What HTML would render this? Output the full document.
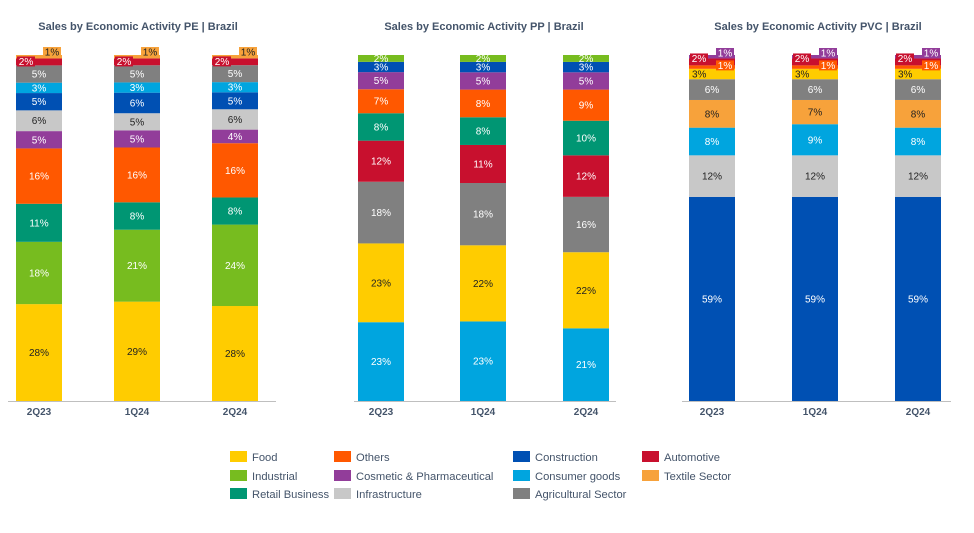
<!DOCTYPE html>
<html><head><meta charset="utf-8"><style>
body{margin:0;background:#fff;width:974px;height:528px;overflow:hidden;font-family:"Liberation Sans",sans-serif}
svg text{font-family:"Liberation Sans",sans-serif}
</style></head><body>
<svg id="c" width="974" height="528"></svg>
<script>
const categories=["2Q23","1Q24","2Q24"];
const peSeries=["Food","Industrial","Retail Business","Others","Cosmetic & Pharmaceutical","Infrastructure","Construction","Consumer goods","Agricultural Sector","Automotive","Textile Sector"];
const peValues=[[28,29,28],[18,21,24],[11,8,8],[16,16,16],[5,5,4],[6,5,6],[5,6,5],[3,3,3],[5,5,5],[2,2,2],[1,1,1]];
const ppSeries=["Consumer goods","Food","Agricultural Sector","Automotive","Retail Business","Others","Cosmetic & Pharmaceutical","Construction","Industrial"];
const ppValues=[[23,23,21],[23,22,22],[18,18,16],[12,11,12],[8,8,10],[7,8,9],[5,5,5],[3,3,3],[2,2,2]];
const pvcSeries=["Construction","Infrastructure","Consumer goods","Textile Sector","Agricultural Sector","Food","Others","Automotive","Cosmetic & Pharmaceutical"];
const pvcValues=[[59,59,59],[12,12,12],[8,9,8],[8,7,8],[6,6,6],[3,3,3],[1,1,1],[2,2,2],[1,1,1]];
const colors={"Food":"#FFCC00","Industrial":"#77BC1F","Retail Business":"#009673","Others":"#FF5800","Cosmetic & Pharmaceutical":"#923D9A","Infrastructure":"#C8C8C8","Construction":"#0050B3","Consumer goods":"#00A5DF","Agricultural Sector":"#808080","Automotive":"#C8102E","Textile Sector":"#F7A23B"};
const darkText={"Food":1,"Infrastructure":1,"Textile Sector":1};
const svg=document.getElementById('c');const NS='http://www.w3.org/2000/svg';
function el(t,a,p){const e=document.createElementNS(NS,t);for(const k in a)e.setAttribute(k,a[k]);(p||svg).appendChild(e);return e;}
const base=401,top0=55,bw=46;
function chart(title,tx,x0,x1,centers,series,values,tags,key){
  const g=el('g',{});
  
  
  const t=el('text',{x:tx,y:30,'text-anchor':'middle','font-size':11,'font-weight':'bold',fill:'#44546A'},g);t.textContent=title;
  
  
  categories.forEach((c,ci)=>{
    let total=0;series.forEach((s,si)=>total+=values[si][ci]);
    const y=v=>base-v/total*(base-top0);
    let cum=0;const cx=centers[ci];
    const labels=[];
    series.forEach((s,si)=>{
      const v=values[si][ci];
      const r=el('rect',{x:cx-bw/2,y:y(cum+v),width:bw,height:y(cum)-y(cum+v),fill:colors[s]},g);
      
      
      labels.push([s,v,y(cum+v),y(cum+v/2)]);
      cum+=v;
    });
    labels.forEach(([s,v,segTop,mid])=>{
      const tag=tags[s];
      const fill=darkText[s]?'#222':'#fff';
      if(tag&&tag[0]!='T'){
        const tw=18,th=10;const lx=tag[0]=='L'?cx-bw/2+1:cx+bw/2-tw-1;const ly=segTop+tag[1];
        el('rect',{x:lx,y:ly,width:tw,height:th,fill:colors[s]},g);
        const lt=el('text',{x:lx+tw/2,y:ly+8.5,'text-anchor':'middle','font-size':10,fill:fill},g);lt.textContent=v+'%';
        
        
      }else if(tag){
        const lt=el('text',{x:cx-bw/2+3,y:mid+3.5,'font-size':10,fill:fill},g);lt.textContent=v+'%';
        
        
      }else{
        const lt=el('text',{x:cx,y:mid+3.5,'text-anchor':'middle','font-size':10,fill:fill},g);lt.textContent=v+'%';
        
        
      }
    });
    const ct=el('text',{x:cx,y:415,'text-anchor':'middle','font-size':10,'font-weight':'bold',fill:'#44546A'},g);ct.textContent=c;
    
    
  });
  const ax=el('line',{x1:x0,x2:x1,y1:base+0.5,y2:base+0.5,stroke:'#BFBFBF','stroke-width':1},g);
  
  
}
chart('Sales by Economic Activity PE | Brazil',138,8,276,[39,137,235],peSeries,peValues,{"Automotive":["L",-2],"Textile Sector":["R",-8]},'pe');
chart('Sales by Economic Activity PP | Brazil',484,354,616,[381,483,586],ppSeries,ppValues,{},'pp');
chart('Sales by Economic Activity PVC | Brazil',818,682,951,[712,815,918],pvcSeries,pvcValues,{"Food":["T",0],"Others":["R",-5],"Automotive":["L",-5],"Cosmetic & Pharmaceutical":["R",-7]},'pvc');
const legend=[["Food",230,457],["Industrial",230,476],["Retail Business",230,494],["Others",334,457],["Cosmetic & Pharmaceutical",334,476],["Infrastructure",334,494],["Construction",513,457],["Consumer goods",513,476],["Agricultural Sector",513,494],["Automotive",642,457],["Textile Sector",642,476]];
legend.forEach(([n,x,yy])=>{
  const g=el('g',{});
  
  
  el('rect',{x:x,y:yy-6,width:17,height:11,fill:colors[n]},g);
  const t=el('text',{x:x+22,y:yy+4,'font-size':11.2,fill:'#44546A'},g);t.textContent=n;
});
</script>
</body></html>
